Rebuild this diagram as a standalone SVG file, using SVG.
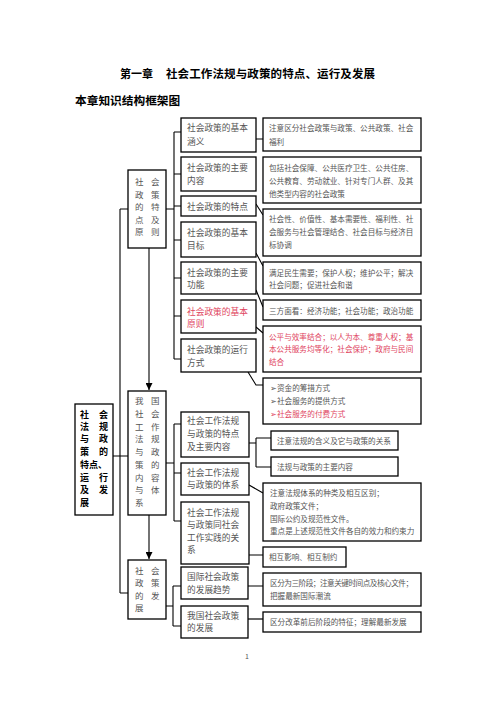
<svg xmlns="http://www.w3.org/2000/svg" width="496" height="702" viewBox="0 0 496 702">
<defs>
<style>
.bg{fill:#fff}
.box{fill:#fff;stroke:#000;stroke-width:1.3}
.ln{fill:none;stroke:#000;stroke-width:1.1}
.t{font-family:"Noto Sans CJK SC","Liberation Serif",serif;fill:#555}
.mid{font-size:8.7px}
.rt{font-size:7.6px}
.col{font-size:8.5px}
.root{font-size:9px;font-weight:bold;fill:#000}
.red{fill:#e0445e}
.title{font-family:"Noto Sans CJK SC","Liberation Sans",sans-serif;font-weight:bold;fill:#000}
</style>
<marker id="arr" viewBox="0 0 8 8" refX="8" refY="4" markerWidth="7" markerHeight="7" markerUnits="userSpaceOnUse" orient="auto">
<path d="M0,0 L8,4 L0,8 Z" fill="#000"/>
</marker>
</defs>
<rect class="bg" x="0" y="0" width="496" height="702"/>

<g id="title">
<text class="title" x="120" y="78" font-size="11px">第一章</text>
<text class="title" x="166" y="78" font-size="11.5px" textLength="209">社会工作法规与政策的特点、运行及发展</text>
<text class="title" x="75" y="105" font-size="11.7px">本章知识结构框架图</text>
</g>

<g id="connectors">
<path class="ln" d="M120,209 V593 M120,209 H128 M113,456 H128 M120,593 H128"/>
<path class="ln" d="M149,248 V390" marker-end="url(#arr)"/>
<path class="ln" d="M149,515 V559" marker-end="url(#arr)"/>
<path class="ln" d="M166,209 H174 M174,132 V359 M174,132 H181 M174,174 H181 M174,206 H181 M174,240 H181 M174,278 H181 M174,316 H181 M174,359 H181"/>
<path class="ln" d="M166,463 H174 M174,424 V521 M174,424 H181 M174,473 H181 M174,521 H181"/>
<path class="ln" d="M166,606 H173 M173,586 V626 M173,586 H181 M173,626 H181"/>
<path class="ln" d="M256,139 H263 M256,204 L263,215 M256,253 L263,266 M256,290 L263,307 M256,327 L263,333 M248,372 L256,385 H263"/>
<path class="ln" d="M249,443 H256 M256,438 V467 M256,438 H271 M256,467 H271 M249,485 L263,493 M249,555 H263 M248,586 H263"/>
<path d="M248,619 H263" fill="none" stroke="#666" stroke-width="2"/>
</g>

<g id="root">
<rect class="box" x="75" y="404" width="38" height="111"/>
<text class="t root" x="80" y="418">社</text><text class="t root" x="99" y="418">会</text>
<text class="t root" x="80" y="430">法</text><text class="t root" x="99" y="430">规</text>
<text class="t root" x="80" y="442">与</text><text class="t root" x="99" y="442">政</text>
<text class="t root" x="80" y="455">策</text><text class="t root" x="99" y="455">的</text>
<text class="t root" x="80" y="468">特点、</text>
<text class="t root" x="80" y="481">运</text><text class="t root" x="99" y="481">行</text>
<text class="t root" x="80" y="493">及</text><text class="t root" x="99" y="493">发</text>
<text class="t root" x="80" y="506">展</text>
</g>

<g id="col1">
<rect class="box" x="128" y="170" width="38" height="78"/>
<text class="t col" x="135" y="185">社</text><text class="t col" x="151" y="185">会</text>
<text class="t col" x="135" y="197.5">政</text><text class="t col" x="151" y="197.5">策</text>
<text class="t col" x="135" y="210">的</text><text class="t col" x="151" y="210">特</text>
<text class="t col" x="135" y="222.5">点</text><text class="t col" x="151" y="222.5">及</text>
<text class="t col" x="135" y="235">原</text><text class="t col" x="151" y="235">则</text>
</g>

<g id="col2">
<rect class="box" x="128" y="391" width="38" height="124"/>
<text class="t col" x="135" y="404">我</text><text class="t col" x="151" y="404">国</text>
<text class="t col" x="135" y="417">社</text><text class="t col" x="151" y="417">会</text>
<text class="t col" x="135" y="430">工</text><text class="t col" x="151" y="430">作</text>
<text class="t col" x="135" y="442">法</text><text class="t col" x="151" y="442">规</text>
<text class="t col" x="135" y="455">与</text><text class="t col" x="151" y="455">政</text>
<text class="t col" x="135" y="468">策</text><text class="t col" x="151" y="468">的</text>
<text class="t col" x="135" y="481">内</text><text class="t col" x="151" y="481">容</text>
<text class="t col" x="135" y="493">与</text><text class="t col" x="151" y="493">体</text>
<text class="t col" x="135" y="506">系</text>
</g>

<g id="col3">
<rect class="box" x="128" y="560" width="38" height="59"/>
<text class="t col" x="135" y="574">社</text><text class="t col" x="151" y="574">会</text>
<text class="t col" x="135" y="586">政</text><text class="t col" x="151" y="586">策</text>
<text class="t col" x="135" y="599">的</text><text class="t col" x="151" y="599">发</text>
<text class="t col" x="135" y="611">展</text>
</g>

<g id="nA">
<rect class="box" x="181" y="118" width="75" height="34"/>
<text class="t mid" x="187" y="130.5">社会政策的基本</text>
<text class="t mid" x="187" y="145">涵义</text>
</g>
<g id="nB">
<rect class="box" x="181" y="157" width="75" height="34"/>
<text class="t mid" x="187" y="170.5">社会政策的主要</text>
<text class="t mid" x="187" y="184">内容</text>
</g>
<g id="nC">
<rect class="box" x="181" y="196" width="75" height="20"/>
<text class="t mid" x="187" y="209.5">社会政策的特点</text>
</g>
<g id="nD">
<rect class="box" x="181" y="222" width="75" height="35"/>
<text class="t mid" x="187" y="235.5">社会政策的基本</text>
<text class="t mid" x="187" y="248.5">目标</text>
</g>
<g id="nE">
<rect class="box" x="181" y="262" width="75" height="32"/>
<text class="t mid" x="187" y="275.5">社会政策的主要</text>
<text class="t mid" x="187" y="288">功能</text>
</g>
<g id="nF">
<rect class="box" x="181" y="300" width="75" height="33"/>
<text class="t mid red" x="187" y="314.5">社会政策的基本</text>
<text class="t mid red" x="187" y="327">原则</text>
</g>
<g id="nG">
<rect class="box" x="181" y="339" width="75" height="33"/>
<text class="t mid" x="187" y="352.5">社会政策的运行</text>
<text class="t mid" x="187" y="365.5">方式</text>
</g>

<g id="nH">
<rect class="box" x="181" y="412" width="68" height="45"/>
<text class="t mid" x="187" y="423.5">社会工作法规</text>
<text class="t mid" x="187" y="436.5">与政策的特点</text>
<text class="t mid" x="187" y="449.5">及主要内容</text>
</g>
<g id="nI">
<rect class="box" x="181" y="463" width="68" height="32"/>
<text class="t mid" x="187" y="475.5">社会工作法规</text>
<text class="t mid" x="187" y="488">与政策的体系</text>
</g>
<g id="nJ">
<rect class="box" x="181" y="502" width="68" height="62"/>
<text class="t mid" x="187" y="515.5">社会工作法规</text>
<text class="t mid" x="187" y="528">与政策同社会</text>
<text class="t mid" x="187" y="540.5">工作实践的关</text>
<text class="t mid" x="187" y="553">系</text>
</g>
<g id="nO">
<rect class="box" x="181" y="567" width="67" height="32"/>
<text class="t mid" x="187" y="579.5">国际社会政策</text>
<text class="t mid" x="187" y="592.5">的发展趋势</text>
</g>
<g id="nP">
<rect class="box" x="181" y="606" width="67" height="32"/>
<text class="t mid" x="187" y="618.5">我国社会政策</text>
<text class="t mid" x="187" y="631">的发展</text>
</g>

<g id="r1">
<rect class="box" x="263" y="118" width="158" height="33"/>
<text class="t rt" x="269" y="131">注意区分社会政策与政策、公共政策、社会</text>
<text class="t rt" x="269" y="145">福利</text>
</g>
<g id="r2">
<rect class="box" x="263" y="157" width="158" height="46"/>
<text class="t rt" x="269" y="171">包括社会保障、公共医疗卫生、公共住房、</text>
<text class="t rt" x="269" y="184">公共教育、劳动就业、针对专门人群、及其</text>
<text class="t rt" x="269" y="196.5">他类型内容的社会政策</text>
</g>
<g id="r3">
<rect class="box" x="263" y="209" width="158" height="47"/>
<text class="t rt" x="269" y="222">社会性、价值性、基本需要性、福利性、社</text>
<text class="t rt" x="269" y="235">会服务与社会管理结合、社会目标与经济目</text>
<text class="t rt" x="269" y="248">标协调</text>
</g>
<g id="r4">
<rect class="box" x="263" y="262" width="158" height="32"/>
<text class="t rt" x="269" y="276">满足民生需要；保护人权；维护公平；解决</text>
<text class="t rt" x="269" y="287.5">社会问题；促进社会和谐</text>
</g>
<g id="r5">
<rect class="box" x="263" y="300" width="158" height="20"/>
<text class="t rt" x="269" y="313.5">三方面看：经济功能；社会功能；政治功能</text>
</g>
<g id="r6">
<rect class="box" x="263" y="326" width="158" height="46"/>
<text class="t rt red" x="269" y="339.5">公平与效率结合；以人为本、尊重人权；基</text>
<text class="t rt red" x="269" y="352">本公共服务均等化；社会保护；政府与民间</text>
<text class="t rt red" x="269" y="364.5">结合</text>
</g>
<g id="r7">
<rect class="box" x="263" y="378" width="158" height="46"/>
<text class="t rt" x="270" y="391">➢资金的筹措方式</text>
<text class="t rt" x="270" y="404">➢社会服务的提供方式</text>
<text class="t rt red" x="270" y="417">➢社会服务的付费方式</text>
</g>
<g id="rK">
<rect class="box" x="271" y="431" width="127" height="19"/>
<text class="t rt" x="277" y="443.5">注意法规的含义及它与政策的关系</text>
</g>
<g id="rL">
<rect class="box" x="271" y="457" width="127" height="19"/>
<text class="t rt" x="277" y="469.5">法规与政策的主要内容</text>
</g>
<g id="rM">
<rect class="box" x="263" y="483" width="158" height="58"/>
<text class="t rt" x="270" y="496">注意法规体系的种类及相互区别；</text>
<text class="t rt" x="270" y="509">政府政策文件；</text>
<text class="t rt" x="270" y="521.5">国际公约及规范性文件。</text>
<text class="t rt" x="270" y="534">重点是上述规范性文件各自的效力和约束力</text>
</g>
<g id="rN">
<rect class="box" x="263" y="547" width="83" height="20"/>
<text class="t rt" x="269" y="560">相互影响、相互制约</text>
</g>
<g id="rQ">
<rect class="box" x="263" y="573" width="158" height="33"/>
<text class="t rt" x="270" y="586" textLength="143">区分为三阶段；注意关键时间点及核心文件；</text>
<text class="t rt" x="270" y="599">把握最新国际潮流</text>
</g>
<g id="rR">
<rect class="box" x="263" y="612" width="158" height="20"/>
<text class="t rt" x="270" y="625">区分改革前后阶段的特征；理解最新发展</text>
</g>

<g id="page">
<text class="t" x="245" y="659" font-size="7px" font-family="Liberation Serif,serif">1</text>
</g>
</svg>
